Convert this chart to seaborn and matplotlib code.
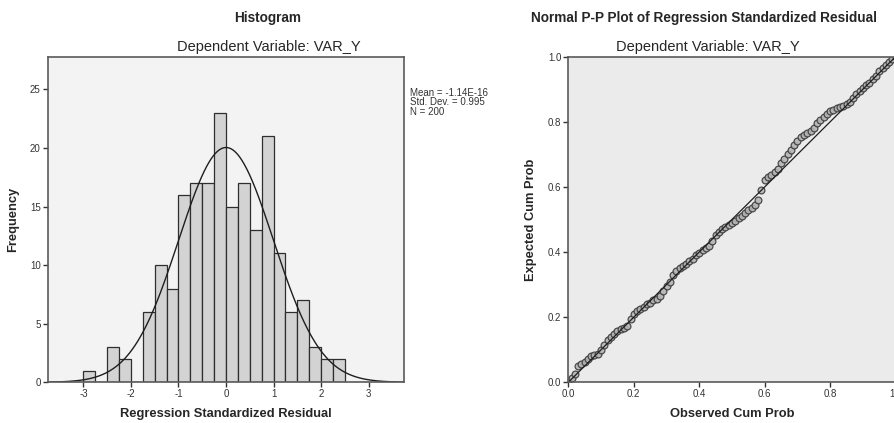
import numpy as np
import pandas as pd
import seaborn as sns
import matplotlib
matplotlib.use('Agg')
import matplotlib.pyplot as plt

sns.set_style('white')
plt.rcParams['font.family'] = ['Liberation Sans', 'DejaVu Sans']
plt.rcParams['axes.unicode_minus'] = False

# histogram of residuals (bin width 0.25)
bin_edges = [-3.0, -2.75, -2.5, -2.25, -2.0, -1.75, -1.5, -1.25, -1.0, -0.75, -0.5,
             -0.25, 0.0, 0.25, 0.5, 0.75, 1.0, 1.25, 1.5, 1.75, 2.0, 2.25, 2.5]
counts = [1, 0, 3, 2, 0, 6, 10, 8, 16, 17, 17, 23, 15, 17, 13, 21, 11, 6, 7, 3, 2, 2]
resid_mean = -1.14e-16
resid_sd = 0.995
n_obs = 200

# normal P-P plot
obs_cum = [0.00, 0.01, 0.02, 0.03, 0.04, 0.05, 0.06, 0.07, 0.08, 0.09, 0.10,
           0.11, 0.12, 0.13, 0.14, 0.15, 0.16, 0.17, 0.18, 0.19, 0.20,
           0.21, 0.22, 0.23, 0.24, 0.25, 0.26, 0.27, 0.28, 0.29, 0.30,
           0.31, 0.32, 0.33, 0.34, 0.35, 0.36, 0.37, 0.38, 0.39, 0.40,
           0.41, 0.42, 0.43, 0.44, 0.45, 0.46, 0.47, 0.48, 0.49, 0.50,
           0.51, 0.52, 0.53, 0.54, 0.55, 0.56, 0.57, 0.58, 0.59, 0.60,
           0.61, 0.62, 0.63, 0.64, 0.65, 0.66, 0.67, 0.68, 0.69, 0.70,
           0.71, 0.72, 0.73, 0.74, 0.75, 0.76, 0.77, 0.78, 0.79, 0.80,
           0.81, 0.82, 0.83, 0.84, 0.85, 0.86, 0.87, 0.88, 0.89, 0.90,
           0.91, 0.92, 0.93, 0.94, 0.95, 0.96, 0.97, 0.98, 0.99, 1.00]
exp_cum = [0.004, 0.012, 0.025, 0.050, 0.056, 0.063, 0.072, 0.080, 0.084, 0.088, 0.098,
           0.115, 0.130, 0.138, 0.148, 0.158, 0.164, 0.166, 0.172, 0.194, 0.210,
           0.218, 0.224, 0.232, 0.240, 0.245, 0.252, 0.257, 0.265, 0.280, 0.295,
           0.308, 0.330, 0.342, 0.350, 0.356, 0.364, 0.372, 0.380, 0.390, 0.397,
           0.405, 0.412, 0.420, 0.435, 0.452, 0.462, 0.470, 0.477, 0.483, 0.489,
           0.496, 0.505, 0.512, 0.520, 0.528, 0.535, 0.545, 0.560, 0.590, 0.622,
           0.630, 0.638, 0.646, 0.656, 0.672, 0.685, 0.700, 0.714, 0.728, 0.742,
           0.752, 0.758, 0.765, 0.772, 0.780, 0.795, 0.805, 0.815, 0.825, 0.832,
           0.837, 0.842, 0.845, 0.850, 0.855, 0.860, 0.872, 0.885, 0.895, 0.905,
           0.912, 0.920, 0.930, 0.942, 0.955, 0.965, 0.975, 0.985, 0.993, 0.998]

fig = plt.figure(figsize=(8.94, 4.23), dpi=100)
ax1 = fig.add_axes([0.0534, 0.0962, 0.3989, 0.7698])
ax2 = fig.add_axes([0.6357, 0.0962, 0.3661, 0.7698])

spine_col = '#5a5a5a'
tick_kw = dict(labelsize=7, length=3.5, width=1, colors='#333333', pad=1.5)

# ---- histogram ----
centers = [(a + b) / 2 for a, b in zip(bin_edges[:-1], bin_edges[1:])]
hist_df = pd.DataFrame({'resid': centers, 'count': counts})
sns.histplot(data=hist_df, x='resid', weights='count', bins=bin_edges,
             color='#d3d3d3', edgecolor='#2e2e2e', linewidth=0.9, alpha=1, ax=ax1)

bw = bin_edges[1] - bin_edges[0]
xs = np.linspace(-3.75, 3.75, 400)
ys = n_obs * bw * np.exp(-0.5 * ((xs - resid_mean) / resid_sd) ** 2) / (resid_sd * np.sqrt(2 * np.pi))
sns.lineplot(x=xs, y=ys, color='#1e1e1e', linewidth=1.0, ax=ax1)

ax1.set_facecolor('#f3f3f3')
ax1.set_xlim(-3.75, 3.75)
ax1.set_ylim(0, 27.8)
ax1.set_xticks([-3, -2, -1, 0, 1, 2, 3])
ax1.set_yticks([0, 5, 10, 15, 20, 25])
ax1.tick_params(axis='both', direction='out', bottom=True, left=True, **tick_kw)
ax1.set_xlabel('Regression Standardized Residual', fontsize=9.3, fontweight='bold', labelpad=6)
ax1.set_ylabel('Frequency', fontsize=9.3, fontweight='bold', labelpad=8)
for s in ax1.spines.values():
    s.set_color(spine_col)
    s.set_linewidth(1.2)

ax1.text(1.017, 0.905, 'Mean = -1.14E-16\nStd. Dev. = 0.995\nN = 200',
         transform=ax1.transAxes, fontsize=7, va='top', ha='left',
         linespacing=0.95, color='#333333')

fig.text(268 / 894, 1 - 18 / 423, 'Histogram', ha='center', va='center',
         fontsize=9.8, fontweight='bold')
fig.text(269 / 894, 1 - 47 / 423, 'Dependent Variable: VAR_Y', ha='center', va='center',
         fontsize=10.5)

# ---- P-P plot ----
pp_df = pd.DataFrame({'observed': obs_cum, 'expected': exp_cum})
sns.lineplot(x=[0, 1], y=[0, 1], color='#1e1e1e', linewidth=0.9, ax=ax2)
sns.scatterplot(data=pp_df, x='observed', y='expected', s=24, marker='o',
                facecolor='#b4b4b4', edgecolor='#3c3c3c', linewidth=0.9, alpha=0.9, ax=ax2)

ax2.set_facecolor('#ebebeb')
ax2.set_xlim(0, 1)
ax2.set_ylim(0, 1)
ax2.set_xticks([0, 0.2, 0.4, 0.6, 0.8, 1.0])
ax2.set_yticks([0, 0.2, 0.4, 0.6, 0.8, 1.0])
ax2.set_xticklabels(['0.0', '0.2', '0.4', '0.6', '0.8', '1.0'])
ax2.set_yticklabels(['0.0', '0.2', '0.4', '0.6', '0.8', '1.0'])
ax2.tick_params(axis='both', direction='out', bottom=True, left=True, **tick_kw)
ax2.set_xlabel('Observed Cum Prob', fontsize=9.3, fontweight='bold', labelpad=6)
ax2.set_ylabel('Expected Cum Prob', fontsize=9.3, fontweight='bold', labelpad=8)
for s in ax2.spines.values():
    s.set_color(spine_col)
    s.set_linewidth(1.2)

fig.text(704 / 894, 1 - 18 / 423, 'Normal P-P Plot of Regression Standardized Residual',
         ha='center', va='center', fontsize=9.8, fontweight='bold')
fig.text(708 / 894, 1 - 47 / 423, 'Dependent Variable: VAR_Y', ha='center', va='center',
         fontsize=10.5)

fig.savefig('out.png', dpi=100)
